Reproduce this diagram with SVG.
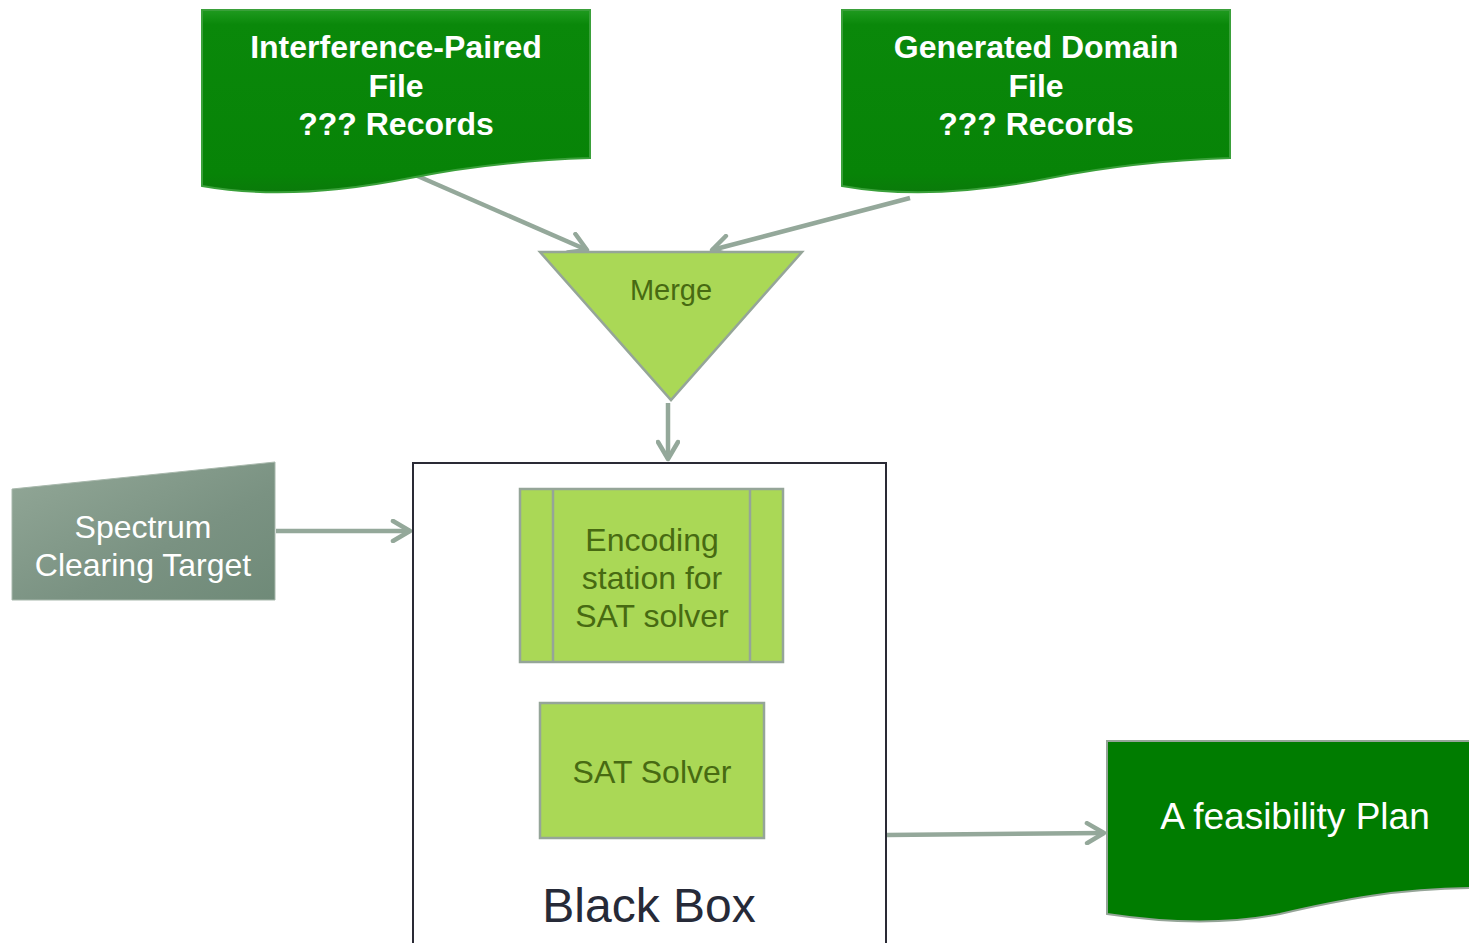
<svg xmlns="http://www.w3.org/2000/svg" width="1469" height="943" viewBox="0 0 1469 943">
<style>
.doc{fill:url(#docg);stroke:#3aa03a;stroke-width:2}
.doct{font-family:"Liberation Sans",Arial,sans-serif;font-weight:bold;font-size:32px;fill:#ffffff;text-anchor:middle}
.lg{fill:#aad856;stroke:#95a598;stroke-width:2.5}
.lgt{font-family:"Liberation Sans",Arial,sans-serif;font-size:32px;fill:#476a12;text-anchor:middle}
.conn{stroke:#94a89a;stroke-width:4.5;fill:none;marker-end:url(#chev)}
</style>
<defs>
<linearGradient id="docg" x1="0" y1="0" x2="0" y2="1">
<stop offset="0" stop-color="#1f9a1f"/>
<stop offset="0.08" stop-color="#0a880a"/>
<stop offset="0.9" stop-color="#078307"/>
<stop offset="1" stop-color="#0a7a0a"/>
</linearGradient>
<linearGradient id="specg" x1="0" y1="0" x2="1" y2="1">
<stop offset="0" stop-color="#93a898"/>
<stop offset="0.6" stop-color="#7a9282"/>
<stop offset="1" stop-color="#6f8a78"/>
</linearGradient>
<marker id="chev" viewBox="0 0 24 24" markerWidth="24" markerHeight="24" refX="21" refY="12" orient="auto" markerUnits="userSpaceOnUse">
<path d="M4,2 L21,12 L4,22" fill="none" stroke="#94a89a" stroke-width="4.5" stroke-linecap="round" stroke-linejoin="round"/>
</marker>
</defs>
<rect width="1469" height="943" fill="#ffffff"/>

<g id="connectors">
<line class="conn" x1="413" y1="174" x2="587" y2="250"/>
<line class="conn" x1="910" y1="198" x2="712" y2="250"/>
<line class="conn" x1="668" y1="403" x2="668" y2="459"/>
<line class="conn" x1="276" y1="531" x2="410" y2="531"/>
<line class="conn" x1="887" y1="835" x2="1104" y2="833"/>
</g>

<g id="interference-file">
<path class="doc" d="M202,10 H590 V158 C530,160 470,166 410,178 C340,192 270,198 202,186 Z"/>
<text class="doct" x="396" y="58">Interference-Paired</text>
<text class="doct" x="396" y="97">File</text>
<text class="doct" x="396" y="135">??? Records</text>
</g>

<g id="domain-file">
<path class="doc" d="M842,10 H1230 V158 C1170,160 1110,166 1050,178 C980,192 910,198 842,186 Z"/>
<text class="doct" x="1036" y="58">Generated Domain</text>
<text class="doct" x="1036" y="97">File</text>
<text class="doct" x="1036" y="135">??? Records</text>
</g>

<g id="merge">
<polygon class="lg" points="540,252 802,252 671,400"/>
<text class="lgt" x="671" y="300" style="font-size:29px">Merge</text>
</g>

<g id="spectrum">
<polygon points="12,489 275,462 275,600 12,600" fill="url(#specg)" stroke="#a8b8ac" stroke-width="1"/>
<text x="143" y="538" font-family="Liberation Sans, Arial, sans-serif" font-size="32" fill="#ffffff" text-anchor="middle">Spectrum</text>
<text x="143" y="576" font-family="Liberation Sans, Arial, sans-serif" font-size="32" fill="#ffffff" text-anchor="middle">Clearing Target</text>
</g>

<g id="black-box">
<rect x="413" y="463" width="473" height="500" fill="#ffffff" stroke="#2a2a35" stroke-width="2"/>
<text x="649" y="922" font-family="Liberation Sans, Arial, sans-serif" font-size="48" fill="#262a38" text-anchor="middle">Black Box</text>
</g>

<g id="encoding">
<rect class="lg" x="520" y="489" width="263" height="173"/>
<line x1="553" y1="489" x2="553" y2="662" stroke="#95a598" stroke-width="2.5"/>
<line x1="750" y1="489" x2="750" y2="662" stroke="#95a598" stroke-width="2.5"/>
<text class="lgt" x="652" y="551">Encoding</text>
<text class="lgt" x="652" y="589">station for</text>
<text class="lgt" x="652" y="627">SAT solver</text>
</g>

<g id="sat-solver">
<rect class="lg" x="540" y="703" width="224" height="135"/>
<text class="lgt" x="652" y="783">SAT Solver</text>
</g>

<g id="feasibility-plan">
<path d="M1107,741 H1475 V888 C1400,888 1340,900 1280,914 C1220,926 1160,922 1107,914 Z" fill="#007c00" stroke="#95a598" stroke-width="2"/>
<text x="1295" y="829" font-family="Liberation Sans, Arial, sans-serif" font-size="37" fill="#ffffff" text-anchor="middle">A feasibility Plan</text>
</g>
</svg>
